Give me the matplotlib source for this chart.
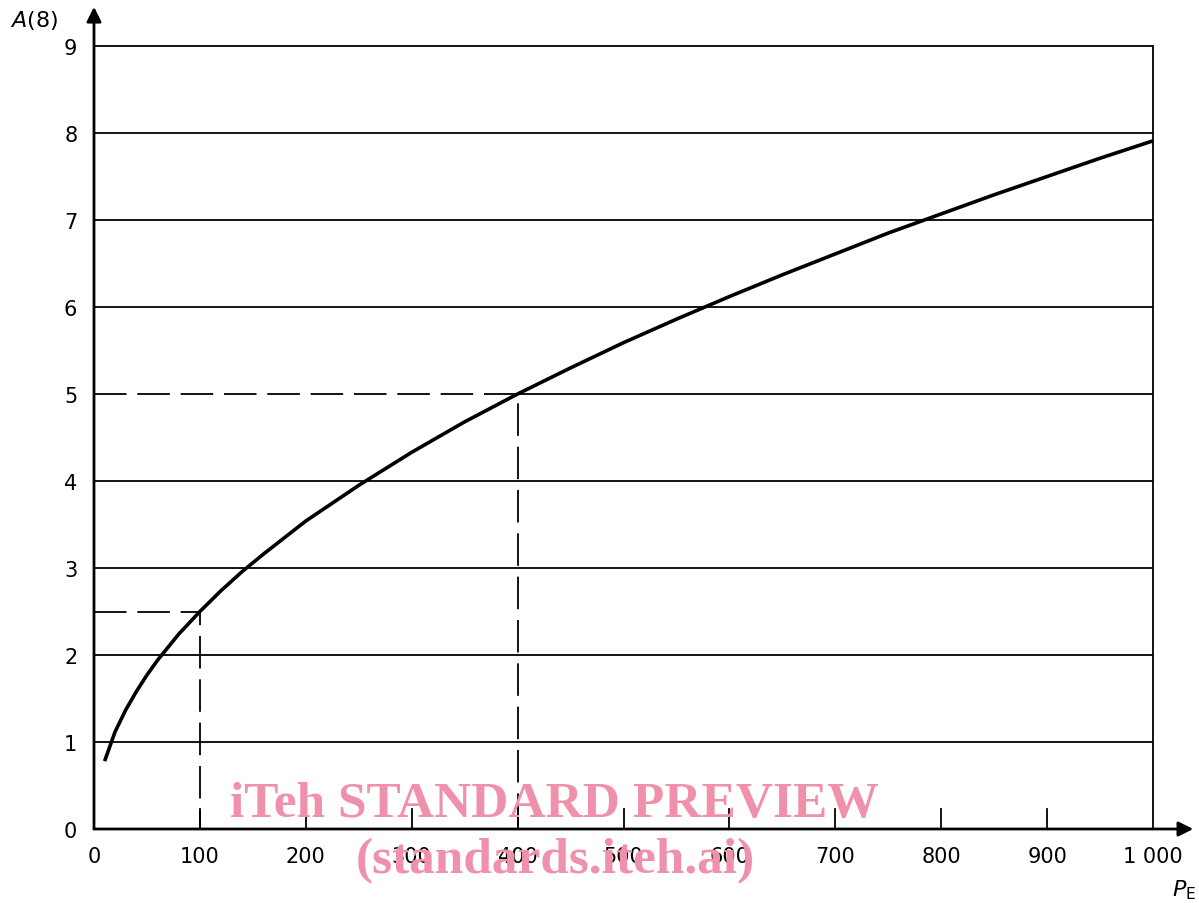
import matplotlib
matplotlib.use("Agg")
import matplotlib.pyplot as plt

# ---- data ----
P_E = [10, 20, 30, 40, 50, 60, 70, 80, 100, 120, 140, 160, 180, 200, 250, 300,
       350, 400, 450, 500, 550, 600, 650, 700, 750, 800, 850, 900, 950, 1000]
A8 = [0.78, 1.12, 1.37, 1.58, 1.77, 1.94, 2.09, 2.24, 2.5, 2.74, 2.96, 3.16,
      3.35, 3.54, 3.95, 4.33, 4.68, 5.0, 5.3, 5.59, 5.86, 6.12, 6.37, 6.61,
      6.85, 7.07, 7.29, 7.5, 7.71, 7.91]
ref_points = [(100, 2.5), (400, 5.0)]
x_ticks = [0, 100, 200, 300, 400, 500, 600, 700, 800, 900, 1000]
x_labels = ["0", "100", "200", "300", "400", "500", "600", "700", "800", "900", "1 000"]
y_ticks = [0, 1, 2, 3, 4, 5, 6, 7, 8, 9]
y_labels = [str(v) for v in y_ticks]

plt.rcParams['font.family'] = ["DejaVu Sans"]

fig = plt.figure(figsize=(11.99, 9.04), dpi=100)
ax = fig.add_axes([94/1199, 1-830/904, (1153-94)/1199, (830-47)/904])
ax.set_xlim(0, 1000)
ax.set_ylim(0, 9)
for s in ax.spines.values():
    s.set_visible(False)

# horizontal grid lines (dashed reference lines replace the solid part) and right border
for y in y_ticks[1:]:
    start = max([px for px, py in ref_points if py == y] + [0])
    ax.plot([start, 1000], [y, y], color='black', lw=1.3,
            solid_capstyle='butt', clip_on=False)
ax.plot([1000, 1000], [0, 9], color='black', lw=1.3, clip_on=False)

# inner ticks on the x axis
for x in x_ticks[1:-1]:
    ax.plot([x, x], [0, 0.23], color='black', lw=1.3)

# reference dashed lines
for px, py in ref_points:
    ax.plot([0, px, px], [py, py, 0], color='black', lw=1.3,
            dashes=(18, 6), dash_capstyle='butt')

# curve
ax.plot(P_E, A8, color='black', lw=2.6, solid_capstyle='butt')

# axes with arrows
ax.annotate('', xy=(1.038, 0), xytext=(0, 0), xycoords='axes fraction',
            arrowprops=dict(arrowstyle='-|>', lw=2, color='black',
                            mutation_scale=22, shrinkA=0, shrinkB=0))
ax.annotate('', xy=(0, 1.05), xytext=(0, 0), xycoords='axes fraction',
            arrowprops=dict(arrowstyle='-|>', lw=2, color='black',
                            mutation_scale=22, shrinkA=0, shrinkB=0))

ax.set_xticks(x_ticks)
ax.set_xticklabels(x_labels)
ax.set_yticks(y_ticks)
ax.set_yticklabels(y_labels)
ax.tick_params(axis='both', length=0, labelsize=15)
ax.tick_params(axis='x', pad=12)
ax.tick_params(axis='y', pad=12)

fig.text(10/1199, 1-20/904, r"$\mathit{A}$(8)", fontsize=16, va='center', ha='left')
fig.text(1172/1199, 1-890/904, r"$\mathit{P}_{\mathrm{E}}$", fontsize=16, va='center', ha='left')

# watermark
fig.text(554/1199, 1-805/904, "iTeh STANDARD PREVIEW", fontsize=37,
         family="Liberation Serif", weight='bold', color='#F091AB',
         ha='center', va='center')
fig.text(555/1199, 1-861/904, "(standards.iteh.ai)", fontsize=37,
         family="Liberation Serif", weight='bold', color='#F091AB',
         ha='center', va='center')

fig.savefig("out.png", dpi=100)
